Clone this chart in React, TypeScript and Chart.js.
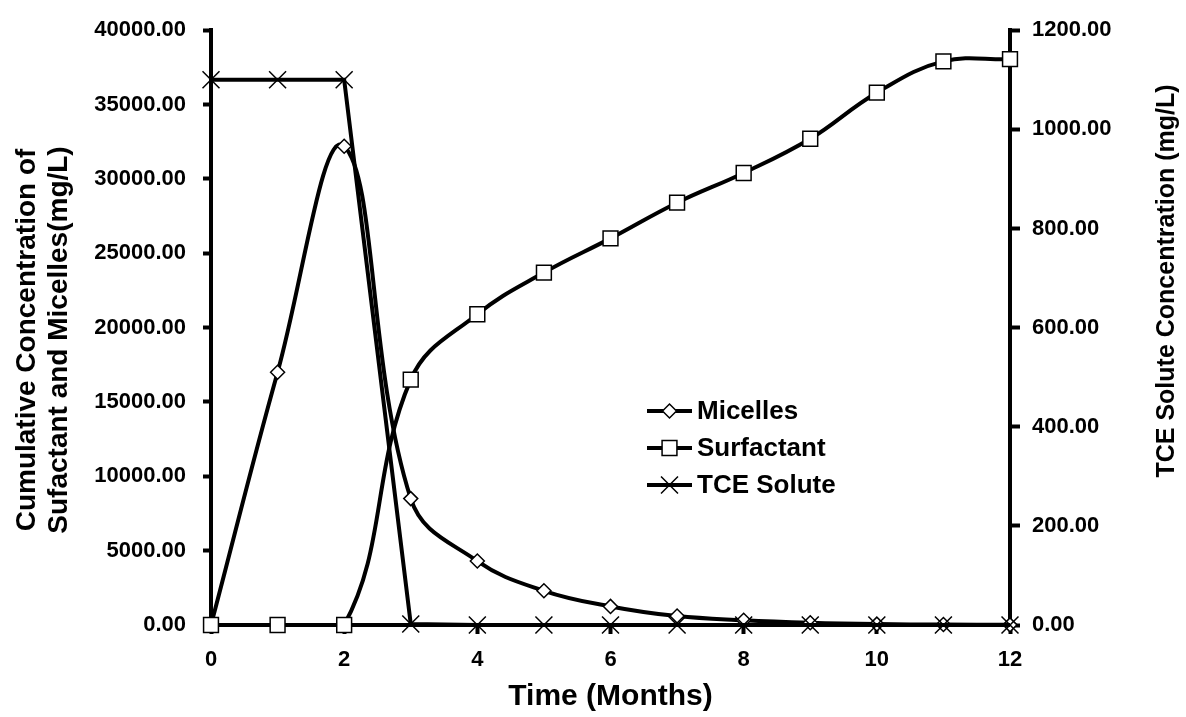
import React, { useEffect, useRef } from 'react';
import { Chart, registerables } from 'chart.js';

Chart.register(...registerables);

// ---- data ----
const months = [0, 1, 2, 3, 4, 5, 6, 7, 8, 9, 10, 11, 12];
const micelles = [0, 17000, 32200, 8500, 4300, 2300, 1250, 600, 320, 150, 60, 30, 10];
const surfactant = [0, 0, 0, 16500, 20900, 23700, 26000, 28400, 30400, 32700, 35800, 37900, 38050];
const tceSolute = [1100, 1100, 1100, 2, 0, 0, 0, 0, 0, 0, 0, 0, 0];
const seriesLabels = ['Micelles', 'Surfactant', 'TCE Solute'];
const xTitle = 'Time (Months)';
const leftTitle = ['Cumulative Concentration of', 'Sufactant and Micelles(mg/L)'];
const rightTitle = 'TCE Solute Concentration (mg/L)';

const FONT = '"Liberation Sans", Arial, Helvetica, sans-serif';

function drawMarker(ctx: CanvasRenderingContext2D, style: string, x: number, y: number, r: number) {
  ctx.beginPath();
  if (style === 'rectRot') {
    ctx.moveTo(x - r, y);
    ctx.lineTo(x, y - r);
    ctx.lineTo(x + r, y);
    ctx.lineTo(x, y + r);
    ctx.closePath();
    ctx.fill();
    ctx.stroke();
  } else if (style === 'rect') {
    const s = r * Math.SQRT1_2;
    ctx.rect(x - s, y - s, 2 * s, 2 * s);
    ctx.fill();
    ctx.stroke();
  } else {
    const s = r * Math.SQRT1_2;
    ctx.moveTo(x - s, y - s);
    ctx.lineTo(x + s, y + s);
    ctx.moveTo(x - s, y + s);
    ctx.lineTo(x + s, y - s);
    ctx.stroke();
  }
}

const overlayPlugin = {
  id: 'overlay',
  afterDraw(chart: any) {
    const ctx: CanvasRenderingContext2D = chart.ctx;
    ctx.save();
    // legend inside plot
    const rows = [411, 448, 485];
    const lx0 = 647;
    const lx1 = 692;
    const tx = 697;
    chart.data.datasets.forEach((ds: any, i: number) => {
      const y = rows[i];
      ctx.strokeStyle = '#000';
      ctx.lineWidth = 4;
      ctx.beginPath();
      ctx.moveTo(lx0, y);
      ctx.lineTo(lx1, y);
      ctx.stroke();
      ctx.lineWidth = 1.5;
      ctx.fillStyle = '#fff';
      drawMarker(ctx, ds.pointStyle, (lx0 + lx1) / 2, y, ds.pointRadius);
      ctx.fillStyle = '#000';
      ctx.font = `bold 26px ${FONT}`;
      ctx.textAlign = 'left';
      ctx.textBaseline = 'middle';
      ctx.fillText(ds.label, tx, y + 1);
    });
    ctx.restore();

    // left axis title (two lines, reads bottom to top)
    const lt = chart.scales.y.options.title.text as string[];
    ctx.save();
    ctx.translate(0, 340);
    ctx.rotate(-Math.PI / 2);
    ctx.font = `bold 28px ${FONT}`;
    ctx.textAlign = 'center';
    ctx.textBaseline = 'middle';
    ctx.fillStyle = '#000';
    ctx.fillText(lt[0], 0, 27);
    ctx.fillText(lt[1], 0, 59);
    ctx.restore();

    // right axis title (reads bottom to top)
    const rt = chart.scales.y1.options.title.text as string;
    ctx.save();
    ctx.translate(1167, 281);
    ctx.rotate(-Math.PI / 2);
    ctx.font = `bold 25px ${FONT}`;
    ctx.textAlign = 'center';
    ctx.textBaseline = 'middle';
    ctx.fillStyle = '#000';
    ctx.fillText(rt, 0, 0);
    ctx.restore();
  },
};

export default function App() {
  const ref = useRef<HTMLCanvasElement | null>(null);

  useEffect(() => {
    if (!ref.current) return;
    const tickFont = { family: FONT, size: 22, weight: 'bold' as const };
    const chart = new Chart(ref.current, {
      type: 'line',
      data: {
        labels: months,
        datasets: [
          {
            label: seriesLabels[0],
            data: months.map((m, i) => ({ x: m, y: micelles[i] })),
            yAxisID: 'y',
            borderColor: '#000',
            borderWidth: 4,
            tension: 0.4,
            pointStyle: 'rectRot',
            pointRadius: 7,
            pointBorderWidth: 1.5,
            pointBackgroundColor: '#fff',
            pointBorderColor: '#000',
            order: 2,
            clip: false,
          },
          {
            label: seriesLabels[1],
            data: months.map((m, i) => ({ x: m, y: surfactant[i] })),
            yAxisID: 'y',
            borderColor: '#000',
            borderWidth: 4,
            tension: 0.4,
            pointStyle: 'rect',
            pointRadius: 10.5,
            pointBorderWidth: 1.5,
            pointBackgroundColor: '#fff',
            pointBorderColor: '#000',
            order: 1,
            clip: false,
          },
          {
            label: seriesLabels[2],
            data: months.map((m, i) => ({ x: m, y: tceSolute[i] })),
            yAxisID: 'y1',
            borderColor: '#000',
            borderWidth: 4,
            tension: 0,
            pointStyle: 'crossRot',
            pointRadius: 12,
            pointBorderWidth: 1.5,
            pointBackgroundColor: '#fff',
            pointBorderColor: '#000',
            order: 0,
            clip: false,
          },
        ],
      },
      options: {
        responsive: false,
        animation: false,
        devicePixelRatio: 1,
        layout: { padding: { top: 22, left: 0, right: 0, bottom: 0 } },
        plugins: {
          legend: { display: false },
          tooltip: { enabled: false },
        },
        scales: {
          x: {
            type: 'linear',
            min: 0,
            max: 12,
            ticks: { stepSize: 2, font: tickFont, color: '#000', padding: 13, maxRotation: 0 },
            grid: { drawOnChartArea: false, drawTicks: true, tickLength: 9, tickWidth: 4, tickColor: '#000' },
            border: { display: true, color: '#000', width: 4 },
            title: {
              display: true,
              text: xTitle,
              color: '#000',
              font: { family: FONT, size: 30, weight: 'bold' },
              padding: { top: 0, bottom: 2 },
            },
            afterFit(scale: any) {
              scale.height = 92;
            },
          },
          y: {
            type: 'linear',
            position: 'left',
            min: 0,
            max: 40000,
            ticks: {
              stepSize: 5000,
              font: tickFont,
              color: '#000',
              padding: 17,
              callback: (v: any) => Number(v).toFixed(2),
            },
            grid: { drawOnChartArea: false, drawTicks: true, tickLength: 8, tickWidth: 4, tickColor: '#000' },
            border: { display: true, color: '#000', width: 4 },
            title: { display: false, text: leftTitle },
            afterFit(scale: any) {
              scale.width = 211;
            },
          },
          y1: {
            type: 'linear',
            position: 'right',
            min: 0,
            max: 1200,
            ticks: {
              stepSize: 200,
              font: tickFont,
              color: '#000',
              padding: 12,
              callback: (v: any) => Number(v).toFixed(2),
            },
            grid: { drawOnChartArea: false, drawTicks: true, tickLength: 10, tickWidth: 4, tickColor: '#000' },
            border: { display: true, color: '#000', width: 4 },
            title: { display: false, text: rightTitle },
            afterFit(scale: any) {
              scale.width = 176;
            },
          },
        },
      },
      plugins: [overlayPlugin],
    });
    return () => chart.destroy();
  }, []);

  return (
    <div style={{ position: 'absolute', left: 0, top: 0, width: 1186, height: 717, background: '#fff' }}>
      <canvas ref={ref} width={1186} height={717} style={{ display: 'block', width: 1186, height: 717 }} />
    </div>
  );
}
